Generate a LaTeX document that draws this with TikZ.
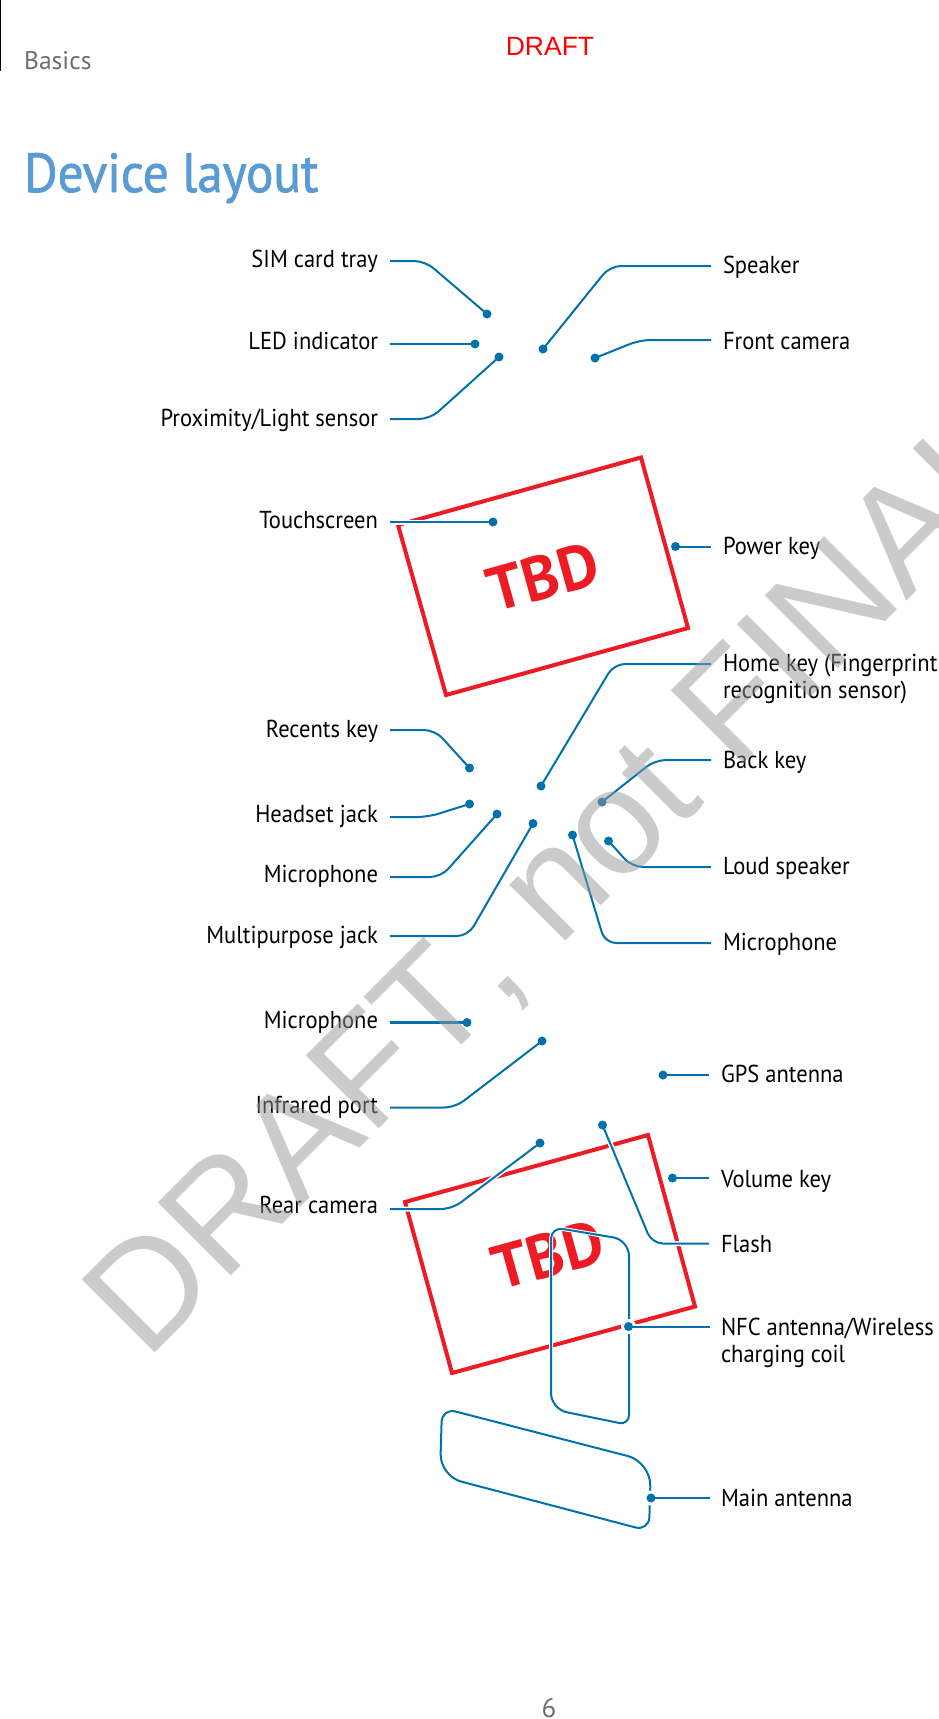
\documentclass[tikz,border=0pt]{standalone}
\usepackage{fontspec}
\setmainfont{PT Sans}
\newfontfamily\labelfont[FakeStretch=0.92]{PT Sans}
\newfontfamily\titlefont[FakeStretch=0.93,FakeBold=1.4]{PT Sans}
\newfontfamily\arialfont{Liberation Sans}
\newfontfamily\wmfont[Kerning=Off]{Liberation Sans}
\usetikzlibrary{calc}
\definecolor{leadblue}{HTML}{0071AC}
\definecolor{headblue}{HTML}{5B9BD5}
\definecolor{basegray}{HTML}{6D6E71}
\definecolor{tbdred}{HTML}{ED1C24}
\pgfdeclarelayer{dots}
\pgfdeclarelayer{wm}
\pgfsetlayers{main,dots,wm}
\tikzset{
  lab/.style={inner sep=0pt,outer sep=0pt,text depth=6pt,font=\labelfont\fontsize{24.5}{27}\selectfont,text=black},
  labl/.style={lab,anchor=east,text height=#1pt},
  labr/.style={lab,anchor=west,text height=#1pt},
  labm/.style={inner sep=0pt,outer sep=0pt,anchor=north west,align=left,font=\labelfont\fontsize{24.5}{27}\selectfont,text=black},
  dotn/.style={circle,fill=leadblue,inner sep=0pt,minimum size=9pt},
  ringn/.style={circle,fill=white,inner sep=0pt,minimum size=15pt},
  leader/.style={draw=leadblue,line width=2pt,rounded corners=11pt,shorten <=12pt,preaction={draw=white,line width=5pt}},
  coil/.style={draw=leadblue,line width=2pt},
  redbox/.style={draw=tbdred,line width=4pt,miter limit=10},
  tbd/.style={font=\fontsize{62}{62}\selectfont\bfseries,text=tbdred,rotate=15.5,inner sep=0pt},
}
\begin{document}
\begin{tikzpicture}[x=1pt,y=-1pt]
\useasboundingbox (0,0) rectangle (939,1719);
\clip (0,0) rectangle (939,1719);
\fill[white] (0,0) rectangle (939,1719);
% header
\draw[line width=1pt] (0.5,0) -- (0.5,71);
\node[inner sep=0pt,anchor=base west,text=basegray,font=\fontsize{25.5}{27}\selectfont] (basics) at (24,69.5) {Basics};
\node[inner sep=0pt,anchor=base,text=red,font=\arialfont\fontsize{26.5}{27}\selectfont] (draft) at (550,55.5) {DRAFT};
\node[inner sep=0pt,anchor=base west,text=headblue,font=\titlefont\fontsize{55}{55}\selectfont] (title) at (24,192) {Device layout};
\node[inner sep=0pt,anchor=base,text=basegray,font=\fontsize{27}{27}\selectfont] (page) at (549,1717) {6};
% red boxes
\draw[redbox] (398,525) -- (641,457.5) -- (688,628) -- (446,695) -- cycle;
\draw[redbox] (405,1202) -- (648,1135) -- (695,1306.5) -- (452,1373) -- cycle;
\node[tbd] (tbda) at (543,577) {TBD};
\node[tbd] (tbdb) at (548,1255) {TBD};
% dots
\begin{pgfonlayer}{dots}
\node[dotn] (dSim) at (487,314) {};
\node[dotn] (dLed) at (475,344) {};
\node[dotn] (dProx) at (499,357) {};
\node[dotn] (dSpk) at (543,349) {};
\node[dotn] (dFront) at (595,358) {};
\node[dotn] (dTouch) at (493,522) {};
\node[dotn] (dPower) at (675.5,546.5) {};
\node[dotn] (dHome) at (541,786) {};
\node[dotn] (dBack) at (602,802) {};
\node[dotn] (dLoud) at (608.5,841) {};
\node[dotn] (dMicR) at (572.5,835) {};
\node[dotn] (dRec) at (469.5,768) {};
\node[dotn] (dHead) at (469.5,804) {};
\node[dotn] (dMicL) at (497,814) {};
\node[dotn] (dMulti) at (533,823.5) {};
\node[dotn] (dMicB) at (467,1022.5) {};
\node[dotn] (dIr) at (542,1041) {};
\node[dotn] (dGps) at (663,1075) {};
\node[dotn] (dRear) at (540,1143) {};
\node[dotn] (dFlash) at (602.5,1125) {};
\node[dotn] (dVol) at (672.5,1178) {};
\node[dotn] (dNfc) at (628.5,1326.5) {};
\node[dotn] (dMain) at (651,1498) {};
\end{pgfonlayer}
% left labels
\node[labl=18] (lSim) at (378,261) {SIM card tray};
\node[labl=16] (lLed) at (378,344) {LED indicator};
\node[labl=20] (lProx) at (378,419) {Proximity/Light sensor};
\node[labl=18] (lTouch) at (378,522) {Touchscreen};
\node[labl=20] (lRec) at (378,730) {Recents key};
\node[labl=16] (lHead) at (378,817) {Headset jack};
\node[labl=16] (lMicL) at (378,877) {Microphone};
\node[labl=20] (lMulti) at (378,936) {Multipurpose jack};
\node[labl=18] (lMicB) at (378,1022.5) {Microphone};
\node[labl=18] (lIr) at (378,1107.5) {Infrared port};
\node[labl=15] (lRear) at (378,1209) {Rear camera};
% right labels
\node[labr=21] (lSpk) at (723,266) {Speaker};
\node[labr=24] (lFront) at (723,340) {Front camera};
\node[labr=22] (lPower) at (723,546.5) {Power key};
\node[labm] (lHome) at (723,654) {Home key (Fingerprint\\recognition sensor)};
\node[labr=22] (lBack) at (723,760) {Back key};
\node[labr=20] (lLoud) at (723,867) {Loud speaker};
\node[labr=20] (lMicR) at (723,943) {Microphone};
\node[labr=21] (lGps) at (721,1075) {GPS antenna};
\node[labr=24] (lVol) at (721,1178) {Volume key};
\node[labr=24] (lFlash) at (721,1243.5) {Flash};
\node[labm] (lNfc) at (721,1318) {NFC antenna/Wireless\\charging coil};
\node[labr=23] (lMain) at (721,1498) {Main antenna};
% connectors left
\draw[leader] (lSim.east) -- (425,261) -- (dSim.center);
\draw[leader] (lLed.east) -- (dLed.center);
\draw[leader] (lProx.east) -- (430,419) -- (dProx.center);
\draw[leader] (lTouch.east) -- (dTouch.center);
\draw[leader] (lRec.east) -- (435,730) -- (dRec.center);
\draw[leader] (lHead.east) -- (428,817) -- (dHead.center);
\draw[leader] (lMicL.east) -- (441,877) -- (dMicL.center);
\draw[leader] (lMulti.east) -- (468,936) -- (dMulti.center);
\draw[leader,line width=3pt] (lMicB.east) -- (dMicB.center);
\draw[leader] (lIr.east) -- (455,1107.5) -- (dIr.center);
\draw[leader] (lRear.east) -- (452,1209) -- (dRear.center);
% connectors right
\draw[leader] (lSpk.west) -- (610,266) -- (dSpk.center);
\draw[leader] (lFront.west) -- (640,340) -- (dFront.center);
\draw[leader] (lPower.west) -- (dPower.center);
\draw[leader] (lHome.west |- 614,664) -- (614,664) -- (dHome.center);
\draw[leader] (lBack.west) -- (655,760) -- (dBack.center);
\draw[leader] (lLoud.west) -- (632,867) -- (dLoud.center);
\draw[leader] (lMicR.west) -- (605,943) -- (dMicR.center);
\draw[leader] (lGps.west) -- (dGps.center);
\draw[leader] (lVol.west) -- (dVol.center);
\draw[leader] (lFlash.west) -- (652,1243.5) -- (dFlash.center);
% coil and antenna
\draw[coil,preaction={draw=white,line width=4pt}] (551,1320) [rounded corners=12pt] -- (551,1227) [rounded corners=16pt] -- (629,1240) [rounded corners=10pt] -- (629,1425) [rounded corners=16pt] -- (551,1409) -- cycle;
\draw[coil] (546.5,1435) [rounded corners=24pt] -- (651,1462) [rounded corners=14pt] -- (649,1531) [rounded corners=22pt] -- (440,1476) [rounded corners=14pt] -- (442,1408) -- cycle;
\node[ringn] (rNfc) at (dNfc) {};
\node[ringn] (rMain) at (dMain) {};
\draw[leader,shorten <=11pt] (lNfc.west |- dNfc) -- (dNfc.center);
\draw[leader,shorten <=11pt] (lMain.west) -- (dMain.center);
% watermark
\begin{pgfonlayer}{wm}
\node[inner sep=0pt,anchor=base west,rotate=45,text=black!40,opacity=0.5,font=\wmfont\fontsize{150}{150}\selectfont] (wmark) at (146,1361.5) {DRAFT, not FINAL};
\end{pgfonlayer}
\end{tikzpicture}
\end{document}
